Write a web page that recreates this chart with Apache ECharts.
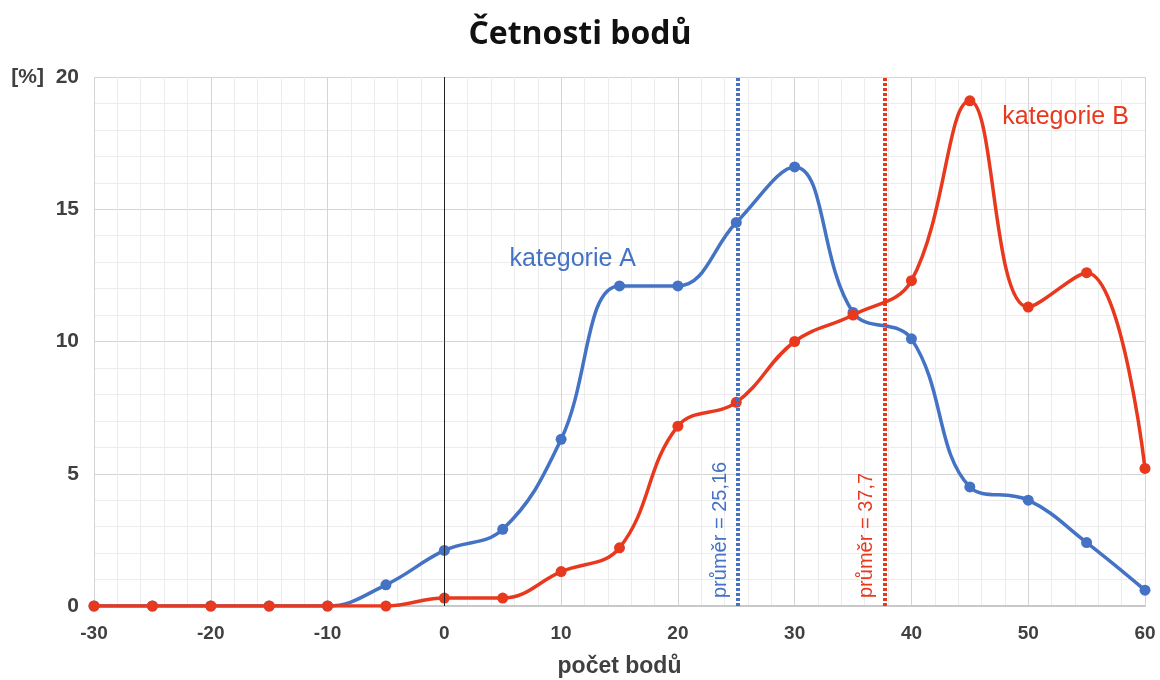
<!DOCTYPE html>
<html><head><meta charset="utf-8">
<script src="https://cdn.jsdelivr.net/npm/echarts@6/dist/echarts.min.js"></script>
<style>html,body{margin:0;padding:0;background:#fff}#c{width:1160px;height:680px}</style>
</head><body><div id="c"></div>
<script>
const xValues = [-30,-25,-20,-15,-10,-5,0,5,10,15,20,25,30,35,40,45,50,55,60];
const seriesA = [0,0,0,0,0,0.8,2.1,2.9,6.3,12.1,12.1,14.5,16.6,11.1,10.1,4.5,4.0,2.4,0.6];
const seriesB = [0,0,0,0,0,0,0.3,0.3,1.3,2.2,6.8,7.7,10.0,11.0,12.3,19.1,11.3,12.6,5.2];
const meanA = 25.16, meanB = 37.7;
const meanLabelA = 'průměr = 25,16', meanLabelB = 'průměr = 37,7';
const labelA = 'kategorie A', labelB = 'kategorie B';
const labelPosA = [11, 13.1], labelPosB = [53.2, 18.5];
const colA = '#4472C4', colB = '#E8391E';
const txt = '#404040';

const chart = echarts.init(document.getElementById('c'));
const pair = arr => xValues.map((x,i)=>[x,arr[i]]);
const textPoint = (pos, text, color) => ({
  symbol:'circle', symbolSize:1, silent:true, itemStyle:{color:'rgba(0,0,0,0)'},
  data:[{coord:pos, label:{show:true, formatter:text, color:color, fontFamily:'Liberation Sans', fontSize:25, position:'inside'}}]
});
const meanLine = (x, text, color) => ({
  xAxis:x, lineStyle:{color:color, width:4, type:[3,2]},
  label:{show:true, position:'insideStartTop', formatter:text, color:color, fontFamily:'Liberation Sans', fontSize:20, distance:[8,8]}
});
chart.setOption({
  animation:false,
  title:{text:'Četnosti bodů',left:'center',top:14,textStyle:{fontFamily:'Open Sans',fontWeight:'bold',fontSize:32,color:'#111'}},
  grid:{left:94,right:15,top:77,bottom:74,containLabel:false,outerBoundsMode:'none'},
  xAxis:{type:'value',min:-30,max:60,interval:10,
    name:'počet bodů',nameLocation:'middle',nameGap:49,
    nameTextStyle:{fontFamily:'Liberation Sans',fontWeight:'bold',fontSize:23,color:txt},
    axisLine:{show:true,onZero:false,lineStyle:{color:'#c8c8c8',width:2}},
    axisTick:{show:false},
    axisLabel:{fontFamily:'Liberation Sans',fontWeight:'bold',fontSize:19,color:txt,margin:18},
    splitLine:{show:true,lineStyle:{color:'#d4d4d4',width:1}},
    minorTick:{show:false,splitNumber:5},
    minorSplitLine:{show:true,lineStyle:{color:'#ececec',width:1}}
  },
  yAxis:{type:'value',min:0,max:20,interval:5,
    axisLine:{show:false},axisTick:{show:false},
    axisLabel:{fontFamily:'Liberation Sans',fontWeight:'bold',fontSize:21,color:txt,margin:15,
      formatter:v=> v===20 ? '[%]  20' : String(v)},
    splitLine:{show:true,lineStyle:{color:'#d4d4d4',width:1}},
    minorTick:{show:false,splitNumber:5},
    minorSplitLine:{show:true,lineStyle:{color:'#ececec',width:1}}
  },
  series:[
    {type:'line',name:labelA,data:pair(seriesA),smooth:0.4,symbol:'circle',symbolSize:11,
     lineStyle:{color:colA,width:3.5},itemStyle:{color:colA},z:3,
     markLine:{silent:true,symbol:'none',
       data:[
         {xAxis:0,lineStyle:{color:'#222',width:1,type:'solid'},label:{show:false}},
         meanLine(meanA, meanLabelA, colA)
       ]},
     markPoint:textPoint(labelPosA, labelA, colA)
    },
    {type:'line',name:labelB,data:pair(seriesB),smooth:0.4,symbol:'circle',symbolSize:11,
     lineStyle:{color:colB,width:3.5},itemStyle:{color:colB},z:4,
     markLine:{silent:true,symbol:'none',data:[meanLine(meanB, meanLabelB, colB)]},
     markPoint:textPoint(labelPosB, labelB, colB)
    }
  ]
});
</script></body></html>
